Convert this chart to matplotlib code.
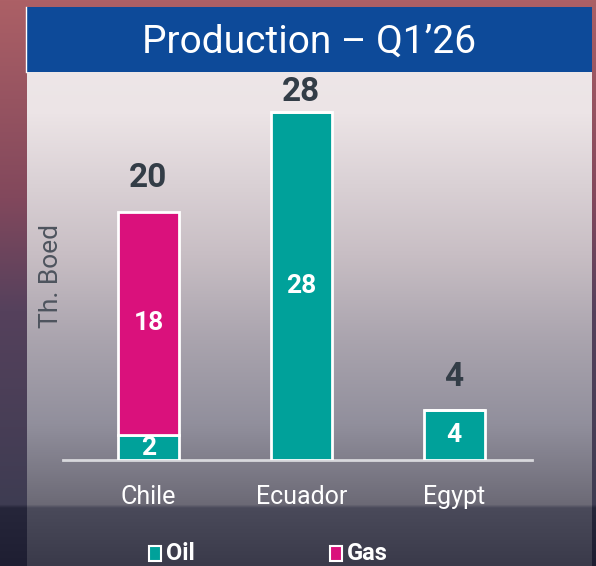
import numpy as np
import matplotlib
matplotlib.use("Agg")
import matplotlib.pyplot as plt
from matplotlib.patches import Rectangle

countries = ["Chile", "Ecuador", "Egypt"]
oil = [2, 28, 4]
gas = [18, 0, 0]
totals = [o + g for o, g in zip(oil, gas)]

teal = "#00A19A"
magenta = "#DA117C"
blue = "#0D4A99"
dark = "#333D47"

W, H = 596, 566
plt.rcParams["font.family"] = ["Roboto", "DejaVu Sans"]


def vgrad(stops, n):
    ys = np.linspace(0, 1, n)
    pos = [s[0] for s in stops]
    out = np.zeros((n, 3))
    for c in range(3):
        out[:, c] = np.interp(ys, pos, [s[1][c] for s in stops])
    return out / 255.0


# background picture (outer frame + panel gradient)
outer = vgrad([(0, (172, 96, 102)), (0.35, (130, 72, 92)), (0.55, (85, 65, 92)),
               (0.892, (62, 60, 82)), (0.898, (38, 38, 58)), (1, (30, 30, 50))], H)
panel = vgrad([(0, (240, 234, 235)), (0.2, (236, 228, 230)), (0.45, (200, 190, 196)),
               (0.6, (170, 164, 174)), (0.75, (145, 143, 156)), (0.892, (108, 106, 118)),
               (0.898, (74, 74, 90)), (1, (58, 58, 74))], H)
img = np.repeat(outer[:, None, :], W, axis=1)
img[7:, 27:592, :] = panel[7:, None, :]

fig = plt.figure(figsize=(W / 100, H / 100), dpi=100)
bg = fig.add_axes([0, 0, 1, 1])
bg.imshow(img, extent=[0, W, H, 0], aspect="auto")
bg.set_xlim(0, W)
bg.set_ylim(H, 0)
bg.axis("off")

# title banner
bg.add_patch(Rectangle((27, 7), 565, 65, color=blue, lw=0))
bg.plot([26, 26], [7, 72], color="white", lw=1)
bg.text(309, 42, "Production \u2013 Q1\u201926", color="white", fontsize=28,
        ha="center", va="center")

ax = fig.add_axes([63 / W, 1 - 460 / H, 469 / W, 380 / H])
ax.patch.set_alpha(0)
x = np.arange(len(countries))
ax.bar(x, oil, width=0.4, color=teal, edgecolor="white", linewidth=2, zorder=3)
ax.bar(x, gas, width=0.4, bottom=oil, color=magenta, edgecolor="white", linewidth=2, zorder=3)
ax.set_xlim(-0.56, 2.51)
ax.set_ylim(0, 30.6)

for i in range(len(countries)):
    if oil[i] > 0:
        ax.text(x[i], oil[i] / 2, str(oil[i]), color="white", fontsize=19,
                fontweight="bold", ha="center", va="center", zorder=4)
    if gas[i] > 0:
        ax.text(x[i], oil[i] + gas[i] / 2, str(gas[i]), color="white", fontsize=19,
                fontweight="bold", ha="center", va="center", zorder=4)
    ax.text(x[i], min(totals[i] + 2.7, 29.6), str(totals[i]), color=dark, fontsize=24,
            fontweight="bold", ha="center", va="center")

for s in ["top", "right", "left"]:
    ax.spines[s].set_visible(False)
ax.spines["bottom"].set_color("#D8D8DC")
ax.spines["bottom"].set_linewidth(2)
ax.set_yticks([])
ax.set_xticks(x)
ax.set_xticklabels(countries, color="white", fontsize=18)
ax.tick_params(axis="x", length=0, pad=18)
ax.set_ylabel("Th. Boed", color="#4E545E", fontsize=19)
ax.yaxis.set_label_coords(0.0, 0.485)

# legend
bg.add_patch(Rectangle((149, 546), 12, 15, facecolor=teal, edgecolor="white", lw=1.5))
bg.text(166, 553, "Oil", color="white", fontsize=17, fontweight="bold", va="center")
bg.add_patch(Rectangle((330, 546), 12, 15, facecolor=magenta, edgecolor="white", lw=1.5))
bg.text(347, 553, "Gas", color="white", fontsize=17, fontweight="bold", va="center")

fig.savefig("out.png", dpi=100)
